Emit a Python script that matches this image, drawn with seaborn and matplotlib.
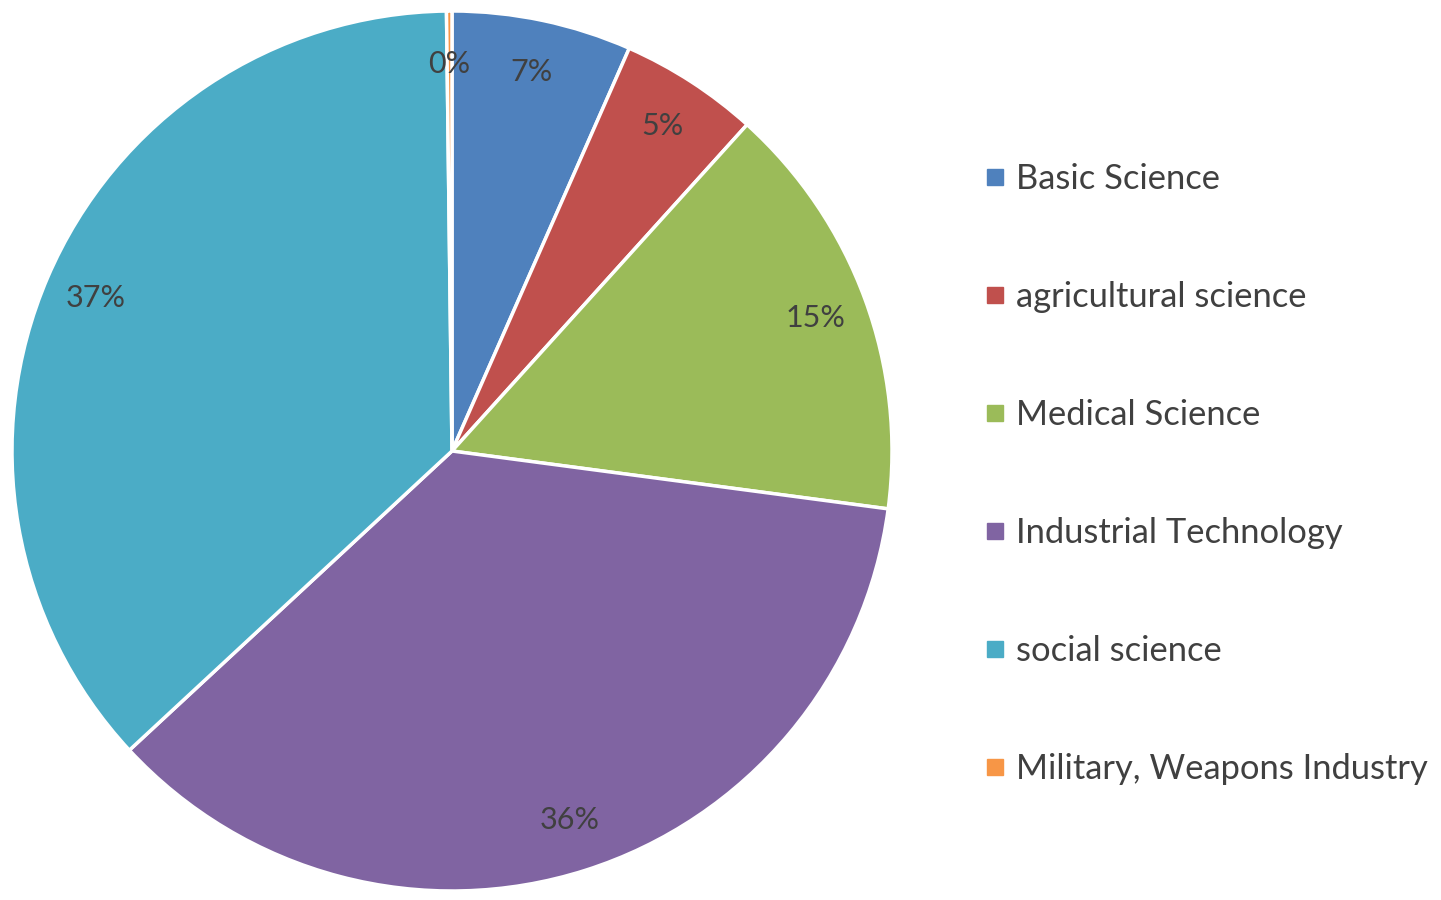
import matplotlib
matplotlib.use("Agg")
import matplotlib.pyplot as plt
from matplotlib.lines import Line2D
import seaborn as sns

sns.set_theme(style="white")
plt.rcParams['font.family'] = ['Lato', 'DejaVu Sans']

categories = ["Basic Science", "agricultural science", "Medical Science",
              "Industrial Technology", "social science", "Military, Weapons Industry"]
shares = [6.6, 5.1, 15.4, 36.0, 36.7, 0.2]
colors = ["#4F81BD", "#C0504D", "#9BBB59", "#8064A2", "#4BACC6", "#F79646"]

text_color = "#404040"

fig = plt.figure(figsize=(14.41, 9), dpi=100)
ax = fig.add_axes([12 / 1441, 9 / 900, 880 / 1441, 880 / 900])

wedges, texts, autotexts = ax.pie(
    shares, colors=colors, startangle=90, counterclock=False,
    autopct="%.0f%%", pctdistance=0.88,
    wedgeprops=dict(edgecolor="white", linewidth=2.5),
    textprops=dict(color=text_color, fontsize=22),
)
ax.set_xlim(-1, 1)
ax.set_ylim(-1, 1)
ax.set_aspect("equal")

handles = [Line2D([0], [0], marker="s", linestyle="none", markersize=11,
                  markerfacecolor=c, markeredgecolor=c) for c in colors]
leg = fig.legend(handles, categories, loc="center left",
                 bbox_to_anchor=(985 / 1441, 0.4733), frameon=False,
                 borderpad=0, borderaxespad=0,
                 fontsize=24.8, labelcolor=text_color, handlelength=0.6,
                 handletextpad=0.3, labelspacing=2.5)

fig.savefig("out.png", dpi=100)
